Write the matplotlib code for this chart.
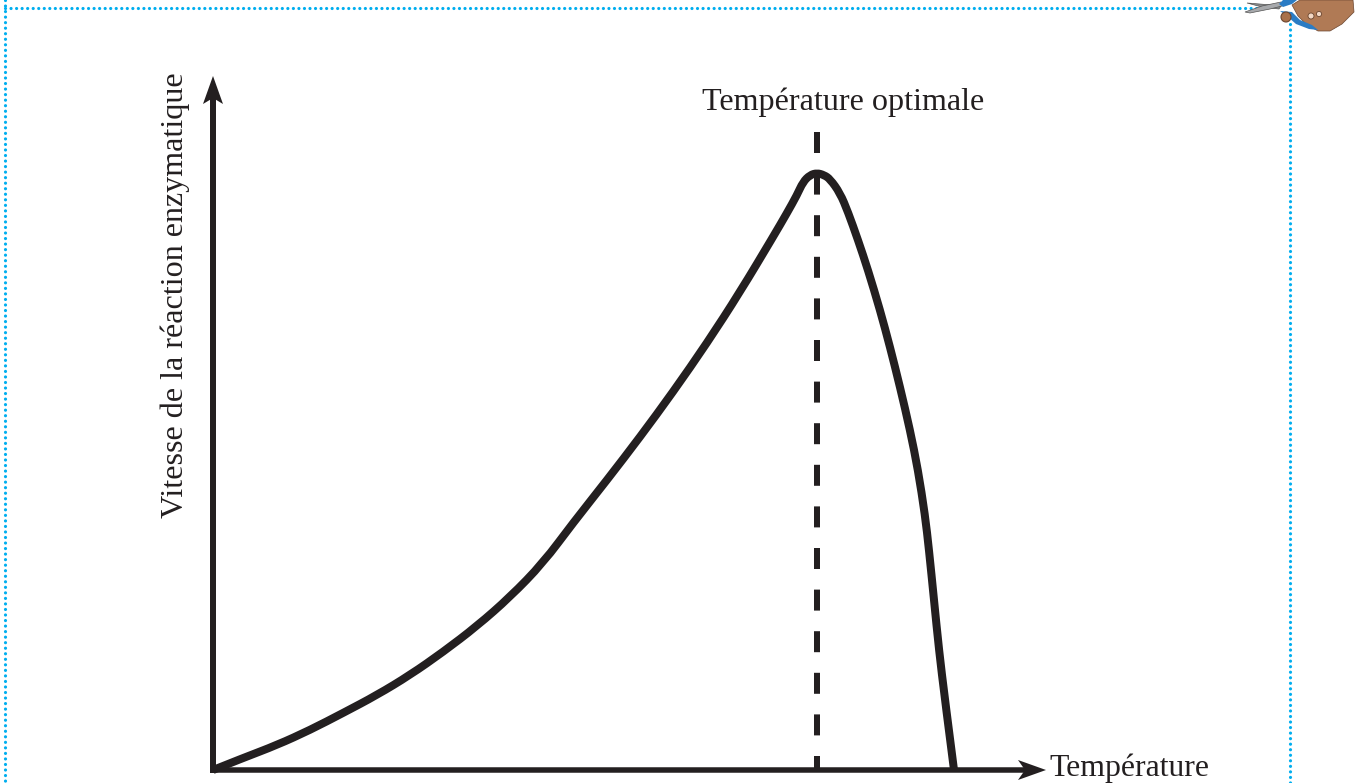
import matplotlib
matplotlib.use("Agg")
import matplotlib.pyplot as plt
from matplotlib.patches import Polygon, Circle, PathPatch
from matplotlib.path import Path

# Values, in pixels from the chart's origin
temperature = [0, 30, 64, 97, 130, 164, 197, 230, 264, 297, 330, 360, 394, 427, 460, 494, 527, 560,
               574, 584, 590, 597, 604, 611, 617, 627, 635, 645, 655, 667, 677, 687, 697, 705, 712,
               716, 721, 726, 732, 741]
rate = [0, 12, 25, 40, 57, 75, 95, 118, 144, 173, 207, 247, 290, 333, 378, 427, 478, 533,
        557, 575, 588, 595, 597, 595, 591, 577, 558, 530, 500, 460, 423, 383, 340, 300, 255,
        220, 170, 120, 70, 0]
optimum_temperature = 604
optimum_top = 638
x_axis_end = 833
y_axis_end = 694
ink = "#231f20"
cut = "#00aeef"

fig = plt.figure(figsize=(13.61, 7.83), dpi=100)
ax = fig.add_axes([0, 0, 1, 1])
ax.set_xlim(-213, 1148)
ax.set_ylim(-13, 770)
ax.axis("off")
plt.rcParams["font.family"] = ["Liberation Serif", "DejaVu Sans"]
px = 72 / 100

# Axes with barbed arrow heads
ax.plot([-3, x_axis_end - 20], [0, 0], color=ink, lw=5.5 * px, solid_capstyle="butt", zorder=3)
ax.plot([0, 0], [-3, y_axis_end - 20], color=ink, lw=6 * px, solid_capstyle="butt", zorder=3)
ax.add_patch(Polygon([(x_axis_end, 0), (x_axis_end - 28, 10), (x_axis_end - 21, 0), (x_axis_end - 28, -10)],
                     closed=True, fc=ink, ec="none", zorder=3))
ax.add_patch(Polygon([(0, y_axis_end), (10, y_axis_end - 28), (0, y_axis_end - 22), (-10, y_axis_end - 28)],
                     closed=True, fc=ink, ec="none", zorder=3))

# Dashed optimum line
ax.plot([optimum_temperature] * 2, [optimum_top, 0], color=ink, lw=6 * px,
        dashes=(21 / 6, 20.6 / 6), dash_capstyle="butt", zorder=2)

# Curve: read points used as quadratic control points, so the line has no corners
pts = list(zip(temperature, rate))
verts = [pts[0]]
codes = [Path.MOVETO]
for i in range(1, len(pts) - 1):
    end = pts[i + 1] if i == len(pts) - 2 else ((pts[i][0] + pts[i + 1][0]) / 2, (pts[i][1] + pts[i + 1][1]) / 2)
    verts += [pts[i], end]
    codes += [Path.CURVE3, Path.CURVE3]
ax.add_patch(PathPatch(Path(verts, codes), fc="none", ec=ink, lw=8 * px, capstyle="butt", joinstyle="round", zorder=3))

# Text
fs = 23.1
ax.text(630, 660, "Température optimale", ha="center", va="baseline", fontsize=fs, color=ink)
ax.text(836, -6, "Température", ha="left", va="baseline", fontsize=fs - 0.2, color=ink)
ax.text(-30, 475, "Vitesse de la réaction enzymatique", rotation=90, rotation_mode="anchor",
        ha="center", va="baseline", fontsize=fs, color=ink)

# Dotted cut border (figure pixel coordinates)
def P(x, y):
    return x - 213, 770 - y

dot = dict(color=cut, lw=3.2 * px, ls=(0, (0.01, 1.72)), dash_capstyle="round")
xs, ys = zip(P(5, 8), P(1258, 8))
ax.plot(xs, ys, **dot)
xs, ys = zip(P(5, 0), P(5, 783))
ax.plot(xs, ys, **dot)
xs, ys = zip(P(1290, 24), P(1290, 783))
ax.plot(xs, ys, **dot)

# Scissors and hand
def poly(points, **kw):
    ax.add_patch(Polygon([P(*p) for p in points], closed=True, **kw))

poly([(1247, 3), (1272, 5), (1281, 6), (1279, 9), (1262, 7)], fc="#8a8d8f", ec="#555555", lw=0.5, zorder=5)
poly([(1245, 12), (1262, 6), (1281, 2), (1282, 6), (1270, 9), (1250, 13)], fc="#a7a9ac", ec="#555555", lw=0.5, zorder=5)
poly([(1279, 4), (1283, 0), (1297, 0), (1292, 4), (1283, 7)], fc="#2b7cc4", ec="none", zorder=6)
poly([(1292, 5), (1300, 0), (1353, 0), (1354, 12), (1342, 24), (1330, 31), (1318, 31), (1306, 24),
      (1298, 16)], fc="#b07a55", ec="#6b4630", lw=0.5, zorder=6)
poly([(1280, 11), (1292, 12), (1300, 20), (1312, 25), (1318, 30), (1309, 29), (1296, 24), (1287, 16)],
     fc="#2b7cc4", ec="none", zorder=7)
ax.add_patch(Circle(P(1286, 17), 5, fc="#a9714b", ec="#6b4630", lw=0.8, zorder=8))
ax.add_patch(Circle(P(1311, 16), 3, fc="#f3d8c4", ec="#6b4630", lw=0.6, zorder=8))
ax.add_patch(Circle(P(1319, 14), 2.6, fc="#f3d8c4", ec="#6b4630", lw=0.6, zorder=8))

fig.savefig("out.png", dpi=100)
